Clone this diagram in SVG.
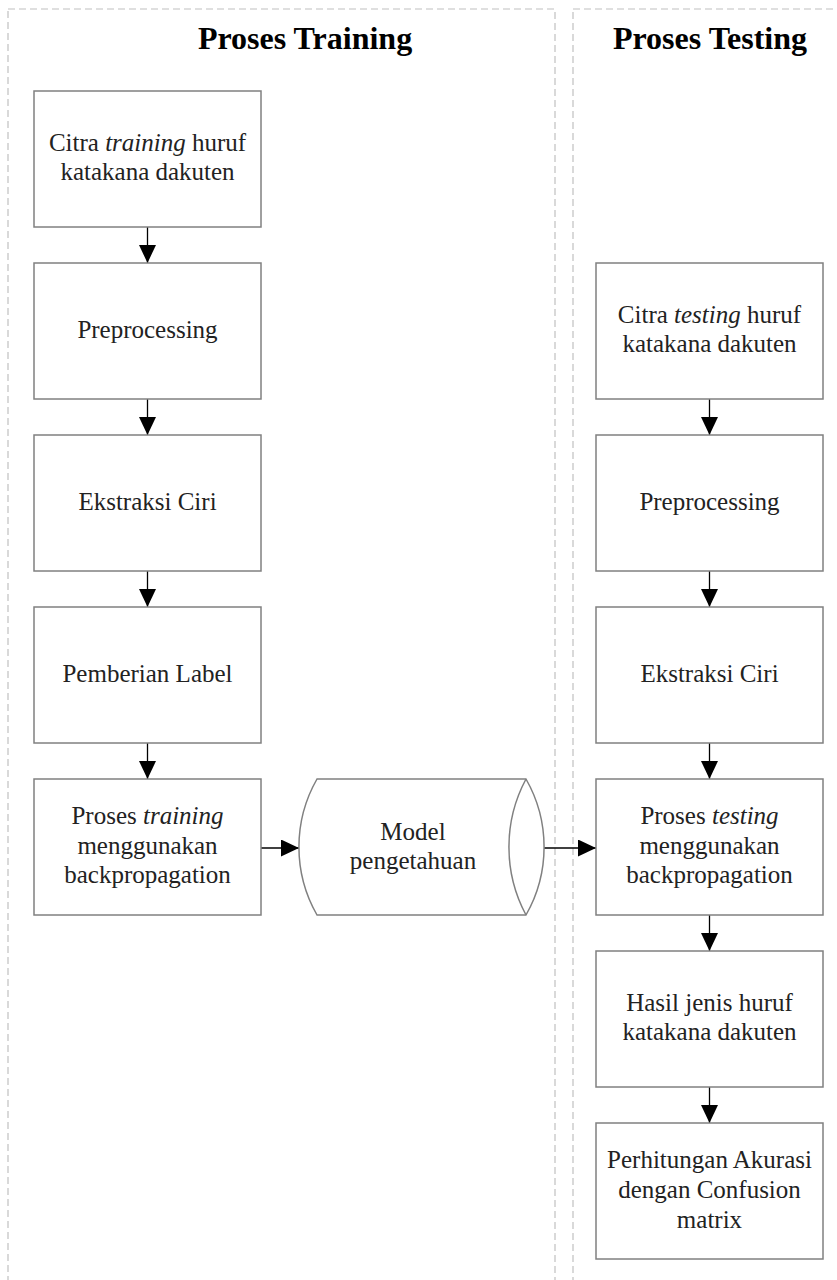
<svg xmlns="http://www.w3.org/2000/svg" width="837" height="1280" viewBox="0 0 837 1280">
<defs>
<style>
.panel{fill:none;stroke:#c0c0c0;stroke-width:1.2;stroke-dasharray:7 4}
.box{fill:#fff;stroke:#808080;stroke-width:1.5}
.t{font-family:"Liberation Serif","Times New Roman",serif;font-size:25px;fill:#222;text-anchor:middle}
.h{font-family:"Liberation Serif","Times New Roman",serif;font-size:32px;font-weight:bold;fill:#000;text-anchor:middle}
.c{fill:none;stroke:#000;stroke-width:1.3}
</style>
<marker id="ah" markerUnits="userSpaceOnUse" markerWidth="18" markerHeight="18" refX="18" refY="8.5" orient="auto">
<path d="M0,0 L18,8.5 L0,17 Z" fill="#000"/>
</marker>
</defs>
<rect width="837" height="1280" fill="#fff"/>
<g id="panels">
<rect class="panel" x="8" y="9" width="547" height="1300"/>
<rect class="panel" x="573" y="9" width="300" height="1300"/>
<text class="h" x="305" y="49">Proses Training</text>
<text class="h" x="710" y="49">Proses Testing</text>
</g>
<g id="connectors">
<line class="c" x1="147.5" y1="227" x2="147.5" y2="263" marker-end="url(#ah)"/>
<line class="c" x1="147.5" y1="399" x2="147.5" y2="435" marker-end="url(#ah)"/>
<line class="c" x1="147.5" y1="571" x2="147.5" y2="607" marker-end="url(#ah)"/>
<line class="c" x1="147.5" y1="743" x2="147.5" y2="779" marker-end="url(#ah)"/>
<line class="c" x1="261" y1="848" x2="299" y2="848" marker-end="url(#ah)"/>
<line class="c" x1="544" y1="848" x2="596" y2="848" marker-end="url(#ah)"/>
<line class="c" x1="709.5" y1="399" x2="709.5" y2="435" marker-end="url(#ah)"/>
<line class="c" x1="709.5" y1="571" x2="709.5" y2="607" marker-end="url(#ah)"/>
<line class="c" x1="709.5" y1="743" x2="709.5" y2="779" marker-end="url(#ah)"/>
<line class="c" x1="709.5" y1="915" x2="709.5" y2="951" marker-end="url(#ah)"/>
<line class="c" x1="709.5" y1="1087" x2="709.5" y2="1123" marker-end="url(#ah)"/>
</g>
<g id="train1"><rect class="box" x="34" y="91" width="227" height="136"/>
<text class="t" x="147.5" y="151">Citra <tspan font-style="italic">training</tspan> huruf</text>
<text class="t" x="147.5" y="180">katakana dakuten</text></g>
<g id="train2"><rect class="box" x="34" y="263" width="227" height="136"/>
<text class="t" x="147.5" y="338">Preprocessing</text></g>
<g id="train3"><rect class="box" x="34" y="435" width="227" height="136"/>
<text class="t" x="147.5" y="510">Ekstraksi Ciri</text></g>
<g id="train4"><rect class="box" x="34" y="607" width="227" height="136"/>
<text class="t" x="147.5" y="682">Pemberian Label</text></g>
<g id="train5"><rect class="box" x="34" y="779" width="227" height="136"/>
<text class="t" x="147.5" y="824">Proses <tspan font-style="italic">training</tspan></text>
<text class="t" x="147.5" y="854">menggunakan</text>
<text class="t" x="147.5" y="883">backpropagation</text></g>
<g id="model">
<path class="box" d="M317,779 L526,779 A137,137 0 0 1 526,915 L317,915 A137,137 0 0 1 317,779 Z"/>
<path class="box" fill="none" d="M526,779 A144,144 0 0 0 526,915"/>
<text class="t" x="413" y="840">Model</text>
<text class="t" x="413" y="869">pengetahuan</text>
</g>
<g id="test1"><rect class="box" x="596" y="263" width="227" height="136"/>
<text class="t" x="709.5" y="323">Citra <tspan font-style="italic">testing</tspan> huruf</text>
<text class="t" x="709.5" y="352">katakana dakuten</text></g>
<g id="test2"><rect class="box" x="596" y="435" width="227" height="136"/>
<text class="t" x="709.5" y="510">Preprocessing</text></g>
<g id="test3"><rect class="box" x="596" y="607" width="227" height="136"/>
<text class="t" x="709.5" y="682">Ekstraksi Ciri</text></g>
<g id="test4"><rect class="box" x="596" y="779" width="227" height="136"/>
<text class="t" x="709.5" y="824">Proses <tspan font-style="italic">testing</tspan></text>
<text class="t" x="709.5" y="854">menggunakan</text>
<text class="t" x="709.5" y="883">backpropagation</text></g>
<g id="test5"><rect class="box" x="596" y="951" width="227" height="136"/>
<text class="t" x="709.5" y="1011">Hasil jenis huruf</text>
<text class="t" x="709.5" y="1040">katakana dakuten</text></g>
<g id="test6"><rect class="box" x="596" y="1123" width="227" height="136"/>
<text class="t" x="709.5" y="1168">Perhitungan Akurasi</text>
<text class="t" x="709.5" y="1198">dengan Confusion</text>
<text class="t" x="709.5" y="1228">matrix</text></g>
</svg>
